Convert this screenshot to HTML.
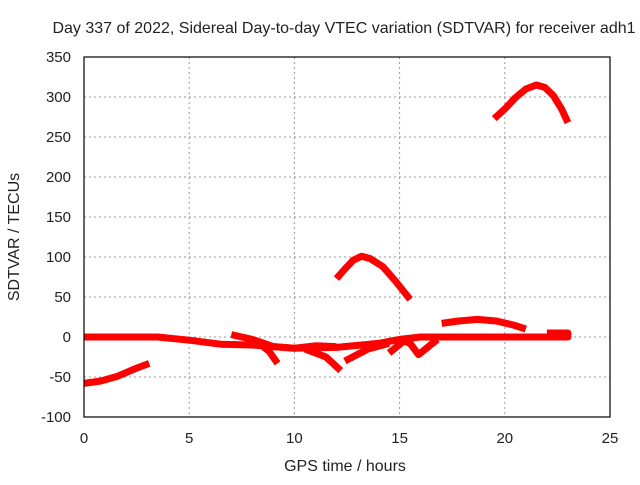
<!DOCTYPE html>
<html><head><meta charset="utf-8"><style>
body{margin:0;background:#fff}
svg text{font-family:"Liberation Sans",sans-serif;font-size:16px;fill:#222}
svg text.tick{font-size:15px}
</style></head><body>
<svg id="chart" width="640" height="480">
<text x="344" y="33" text-anchor="middle">Day 337 of 2022, Sidereal Day-to-day VTEC variation (SDTVAR) for receiver adh1</text>
<g id="grid"></g><g id="series"></g>
<rect x="84" y="57" width="526" height="360" fill="none" stroke="#000" stroke-width="1.2"/>
<g id="ticks"></g>
<text transform="translate(19,237) rotate(-90)" text-anchor="middle">SDTVAR / TECUs</text>
<text x="345" y="471" text-anchor="middle">GPS time / hours</text>
</svg>
<script>
const xTicks=[0,5,10,15,20,25];
const yTicks=[-100,-50,0,50,100,150,200,250,300,350];
const seriesA=[[0,-58],[0.8,-55],[1.6,-49],[2.4,-40],[3.1,-33]];
const seriesB=[[0,0],[3.5,0],[5,-4],[6.5,-9],[8,-10],[10,-14],[12,-13],[14,-8],[15,-3],[16,0],[23,0]];
const seriesC=[[7,3],[8,-3],[9,-12],[10,-14],[11,-11],[12,-12]];
const seriesD=[[8.2,-5],[8.8,-18],[9.2,-33]];
const seriesE=[[10.5,-15],[11.5,-25],[12.2,-42]];
const seriesF=[[12.4,-30],[13.5,-15],[14.5,-8]];
const seriesG=[[14.5,-20],[15.2,-5],[15.5,-8],[15.9,-22],[16.8,-3]];
const seriesH=[[17,17],[17.8,20],[18.7,22],[19.6,20],[20.4,15],[21,10]];
const seriesI=[[22,5],[23,5],[23,0],[22.3,0]];
const seriesJ=[[12,73],[12.4,85],[12.8,96],[13.2,101],[13.6,98],[14.2,88],[14.8,70],[15.5,47]];
const seriesK=[[19.5,273],[20,285],[20.5,299],[21,310],[21.5,315],[21.9,312],[22.3,302],[22.7,285],[23,268]];
const allSeries=[seriesA,seriesB,seriesC,seriesD,seriesE,seriesF,seriesG,seriesH,seriesI,seriesJ,seriesK];
const X=v=>84+v*526/25, Y=v=>57+(350-v)*360/450;
const ns="http://www.w3.org/2000/svg";
const g=document.getElementById('grid'),t=document.getElementById('ticks'),s=document.getElementById('series');
xTicks.forEach(v=>{
 const l=document.createElementNS(ns,'line');
 
 
 l.setAttribute('x1',X(v));l.setAttribute('x2',X(v));l.setAttribute('y1',57);l.setAttribute('y2',417);
 l.setAttribute('stroke','#999');l.setAttribute('stroke-dasharray','2,3');g.appendChild(l);
 const tx=document.createElementNS(ns,'text');
 
 
 tx.setAttribute('class','tick');
 tx.setAttribute('x',X(v));tx.setAttribute('y',443);tx.setAttribute('text-anchor','middle');tx.textContent=v;t.appendChild(tx);
});
yTicks.forEach(v=>{
 const l=document.createElementNS(ns,'line');
 
 
 l.setAttribute('x1',84);l.setAttribute('x2',610);l.setAttribute('y1',Y(v));l.setAttribute('y2',Y(v));
 l.setAttribute('stroke','#999');l.setAttribute('stroke-dasharray','2,3');g.appendChild(l);
 const tx=document.createElementNS(ns,'text');
 
 
 tx.setAttribute('class','tick');
 tx.setAttribute('x',71);tx.setAttribute('y',Y(v)+5);tx.setAttribute('text-anchor','end');tx.textContent=v;t.appendChild(tx);
});
allSeries.forEach(d=>{
 const p=document.createElementNS(ns,'polyline');
 
 
 p.setAttribute('points',d.map(q=>X(q[0])+','+Y(q[1])).join(' '));
 p.setAttribute('fill','none');p.setAttribute('stroke','#f00');p.setAttribute('stroke-width','7');
 p.setAttribute('stroke-linejoin','round');s.appendChild(p);
});
</script>
</body></html>
